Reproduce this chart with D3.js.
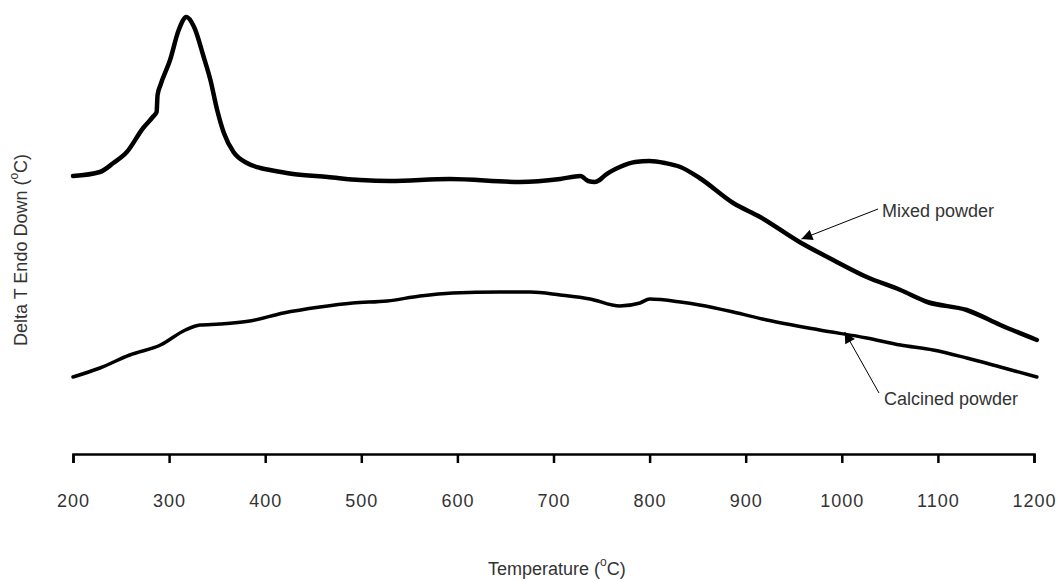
<!DOCTYPE html>
<meta charset="utf-8">
<style>

body {
  margin: 0;
  font: 18px "Liberation Sans", Arial, sans-serif;
}

.axis path, .axis line {
  fill: none;
  stroke: #000;
  stroke-width: 2.5px;
}

.axis text {
  font: 18px "Liberation Sans", Arial, sans-serif;
  letter-spacing: 1px;
  fill: #333;
}

.label {
  fill: #333;
}

</style>
<body>
<script src="https://cdn.jsdelivr.net/npm/d3@7"></script>
<script>

var width = 1058,
    height = 581;

// temperature (C) and DTA signal (arbitrary units)
var mixedTemp = [200, 228, 242, 256, 273, 283, 287, 288, 291, 301, 310, 318, 326, 336, 343, 350, 357, 367, 381, 395, 405, 429, 465, 499, 530, 592, 665, 707, 728, 733, 736, 743, 748, 754, 769, 785, 800, 816, 832, 852, 887, 915, 956, 991, 1026, 1061, 1089, 1130, 1165, 1203];
var mixedSignal = [278, 282, 291, 302, 326, 337, 342, 359, 369, 394, 424, 437, 427, 397, 374, 344, 321, 302, 291, 286, 284, 280, 277, 274, 273, 275, 272, 275, 278, 275, 273, 272, 274, 279, 287, 292, 293, 291, 287, 276, 251, 237, 212, 194, 177, 164, 152, 144, 129, 114];

var calcinedTemp = [200, 228, 259, 291, 317, 332, 353, 384, 419, 457, 491, 527, 561, 595, 644, 676, 707, 738, 769, 790, 800, 832, 852, 887, 922, 977, 1026, 1061, 1095, 1130, 1165, 1203];
var calcinedSignal = [77, 86, 99, 109, 124, 129, 130, 133, 141, 147, 151, 153, 158, 161, 162, 162, 159, 155, 148, 151, 155, 152, 149, 142, 134, 124, 116, 109, 104, 96, 87, 77];

var xTicks = [200, 300, 400, 500, 600, 700, 800, 900, 1000, 1100, 1200];

var x = d3.scaleLinear()
    .domain([200, 1200])
    .range([73, 1034]);

var y = d3.scaleLinear()
    .domain([0, 450])
    .range([454, 4]);

var svg = d3.select("body").append("svg")
    .attr("width", width)
    .attr("height", height);

var line = d3.line()
    .x(d => x(d[0]))
    .y(d => y(d[1]))
    .curve(d3.curveMonotoneX);

svg.append("path")
    .datum(d3.zip(mixedTemp, mixedSignal))
    .attr("fill", "none")
    .attr("stroke", "#000")
    .attr("stroke-width", 4.5)
    .attr("stroke-linejoin", "round")
    .attr("stroke-linecap", "round")
    .attr("d", line);

svg.append("path")
    .datum(d3.zip(calcinedTemp, calcinedSignal))
    .attr("fill", "none")
    .attr("stroke", "#000")
    .attr("stroke-width", 3.5)
    .attr("stroke-linejoin", "round")
    .attr("stroke-linecap", "round")
    .attr("d", line);

svg.append("g")
    .attr("class", "axis")
    .attr("transform", "translate(0," + y(0) + ")")
    .call(d3.axisBottom(x).tickValues(xTicks).tickFormat(d3.format("d")).tickSize(9).tickPadding(31));

// axis titles
var xt = svg.append("text")
    .attr("class", "label")
    .attr("x", 488)
    .attr("y", 575);
xt.append("tspan").text("Temperature (");
xt.append("tspan").attr("font-size", 12).attr("dy", -9).text("o");
xt.append("tspan").attr("dy", 9).text("C)");

var yt = svg.append("text")
    .attr("class", "label")
    .attr("transform", "translate(27,346) rotate(-90)");
yt.append("tspan").text("Delta T Endo Down (");
yt.append("tspan").attr("font-size", 12).attr("dy", -9).text("o");
yt.append("tspan").attr("dy", 9).text("C)");

// annotations
svg.append("defs").append("marker")
    .attr("id", "arrow")
    .attr("viewBox", "0 0 10 10")
    .attr("refX", 10)
    .attr("refY", 5)
    .attr("markerWidth", 13)
    .attr("markerHeight", 11)
    .attr("markerUnits", "userSpaceOnUse")
    .attr("orient", "auto")
  .append("path")
    .attr("d", "M0,0L10,5L0,10z")
    .attr("fill", "#000");

var notes = [
  {text: "Mixed powder", t: 958, v: 215, tx: 882, ty: 217, lx: 878, ly: 209},
  {text: "Calcined powder", t: 1003, v: 122, tx: 884, ty: 405, lx: 879, ly: 393}
];

notes.forEach(function(n) {
  svg.append("line")
      .attr("x1", n.lx)
      .attr("y1", n.ly)
      .attr("x2", x(n.t))
      .attr("y2", y(n.v))
      .attr("stroke", "#000")
      .attr("stroke-width", 1)
      .attr("marker-end", "url(#arrow)");
  svg.append("text")
      .attr("class", "label")
      .attr("x", n.tx)
      .attr("y", n.ty)
      .text(n.text);
});

</script>
